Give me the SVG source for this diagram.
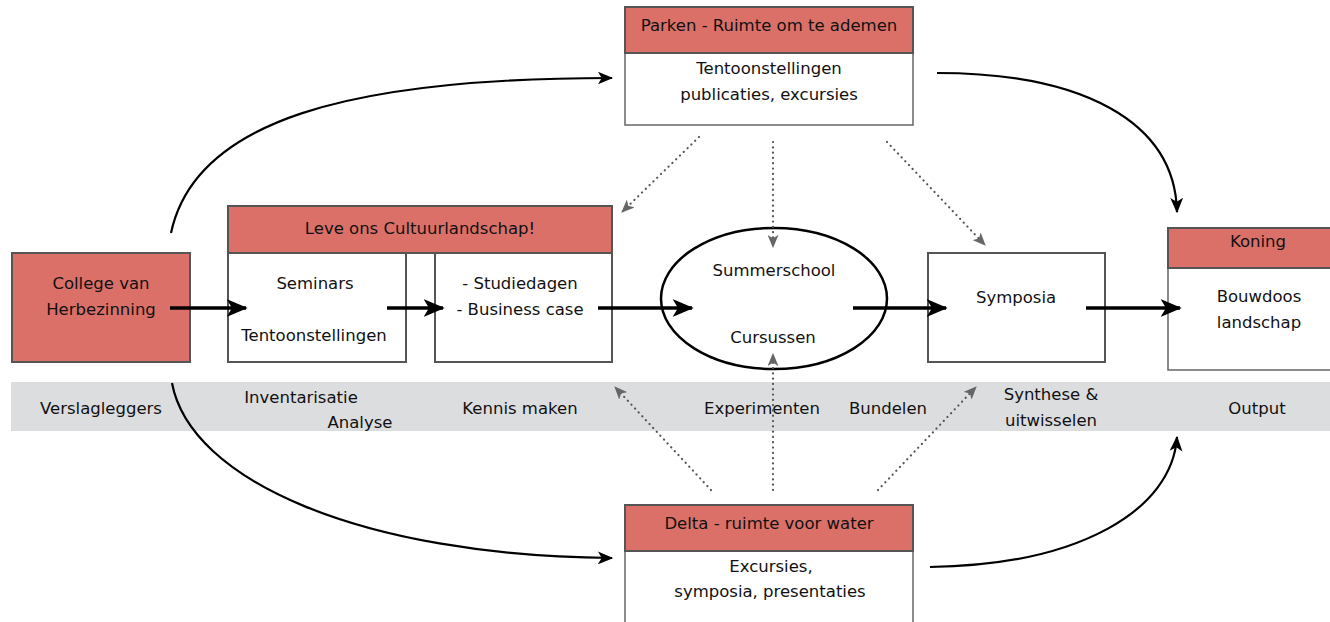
<svg xmlns="http://www.w3.org/2000/svg" width="1330" height="622" viewBox="0 0 1330 622">
<style>
text{font-family:"DejaVu Sans","Liberation Sans",sans-serif;font-size:16.5px;fill:#111;text-anchor:middle}
.hdr{fill:#db7068;stroke:#555;stroke-width:2}
.body{fill:#fff;stroke:#666;stroke-width:1.5}
.box{fill:#fff;stroke:#555;stroke-width:2}
.thick{stroke:#000;stroke-width:3.5;fill:none;marker-end:url(#ah)}
.curve{stroke:#000;stroke-width:2.2;fill:none;marker-end:url(#ah2)}
.dot{stroke:#555;stroke-width:2.2;fill:none;stroke-dasharray:0.1 5.2;stroke-linecap:round;marker-end:url(#ahg)}
</style>
<defs>
<marker id="ah" viewBox="0 0 12 10" refX="11" refY="5" markerWidth="6" markerHeight="5" markerUnits="strokeWidth" orient="auto">
<path d="M0,0 L12,5 L0,10 L3,5 z" fill="#000"/>
</marker>
<marker id="ah2" viewBox="0 0 12 10" refX="11" refY="5" markerWidth="7" markerHeight="6" markerUnits="strokeWidth" orient="auto">
<path d="M0,0 L12,5 L0,10 L3,5 z" fill="#000"/>
</marker>
<marker id="ahg" viewBox="0 0 12 10" refX="11" refY="5" markerWidth="6" markerHeight="5" markerUnits="strokeWidth" orient="auto">
<path d="M0,0 L12,5 L0,10 L3,5 z" fill="#666"/>
</marker>
</defs>

<g id="band">
<rect x="11" y="382" width="1319" height="49" fill="#dcdddf"/>
<text x="101" y="414">Verslagleggers</text>
<text x="301" y="403">Inventarisatie</text>
<text x="360" y="428">Analyse</text>
<text x="520" y="414">Kennis maken</text>
<text x="762" y="414">Experimenten</text>
<text x="888" y="414">Bundelen</text>
<text x="1051" y="400">Synthese &amp;</text>
<text x="1051" y="426">uitwisselen</text>
<text x="1257" y="414">Output</text>
</g>

<g id="parken">
<rect class="body" x="625" y="53" width="288" height="72"/>
<rect class="hdr" x="625" y="7" width="288" height="46"/>
<text x="769" y="31">Parken - Ruimte om te ademen</text>
<text x="769" y="74">Tentoonstellingen</text>
<text x="769" y="100">publicaties, excursies</text>
</g>

<g id="college">
<rect class="hdr" x="12" y="253" width="178" height="109"/>
<text x="101" y="289">College van</text>
<text x="101" y="315">Herbezinning</text>
</g>

<g id="leve">
<rect class="hdr" x="228" y="206" width="384" height="47"/>
<text x="420" y="234">Leve ons Cultuurlandschap!</text>
</g>

<g id="seminars">
<rect class="box" x="228" y="253" width="178" height="109"/>
<text x="315" y="289">Seminars</text>
<text x="314" y="341">Tentoonstellingen</text>
</g>

<g id="studiedagen">
<rect class="box" x="435" y="253" width="177" height="109"/>
<text x="520" y="289">- Studiedagen</text>
<text x="520" y="315">- Business case</text>
</g>

<g id="summerschool">
<ellipse cx="774" cy="298.5" rx="113" ry="70.5" fill="#fff" stroke="#000" stroke-width="2.5"/>
<text x="774" y="276">Summerschool</text>
<text x="773" y="343">Cursussen</text>
</g>

<g id="symposia">
<rect class="box" x="928" y="253" width="177" height="109"/>
<text x="1016" y="303">Symposia</text>
</g>

<g id="koning">
<rect class="body" x="1168" y="268" width="170" height="102"/>
<rect class="hdr" x="1168" y="228" width="170" height="40"/>
<text x="1258" y="247">Koning</text>
<text x="1259" y="302">Bouwdoos</text>
<text x="1259" y="328">landschap</text>
</g>

<g id="delta">
<rect class="body" x="625" y="551" width="288" height="80"/>
<rect class="hdr" x="625" y="505" width="288" height="46"/>
<text x="769" y="529">Delta - ruimte voor water</text>
<text x="771" y="572">Excursies,</text>
<text x="770" y="597">symposia, presentaties</text>
</g>

<g id="connectors">
<path class="thick" d="M170,308 L246,308"/>
<path class="thick" d="M387,308 L443,308"/>
<path class="thick" d="M598,308 L692,308"/>
<path class="thick" d="M853,308 L946,308"/>
<path class="thick" d="M1086,308 L1180,308"/>
<path class="curve" d="M171,233 C195,120 350,78 612,78"/>
<path class="curve" d="M937,73 C1080,73 1175,120 1177,212"/>
<path class="curve" d="M172,383 C190,480 360,556 612,558"/>
<path class="curve" d="M930,567 C1080,565 1172,510 1177,437"/>
<path class="dot" d="M699,137 L622,212"/>
<path class="dot" d="M773,142 L773,247"/>
<path class="dot" d="M887,142 L985,245"/>
<path class="dot" d="M711,490 L615,387"/>
<path class="dot" d="M773,490 L773,354"/>
<path class="dot" d="M878,490 L976,387"/>
</g>
</svg>
